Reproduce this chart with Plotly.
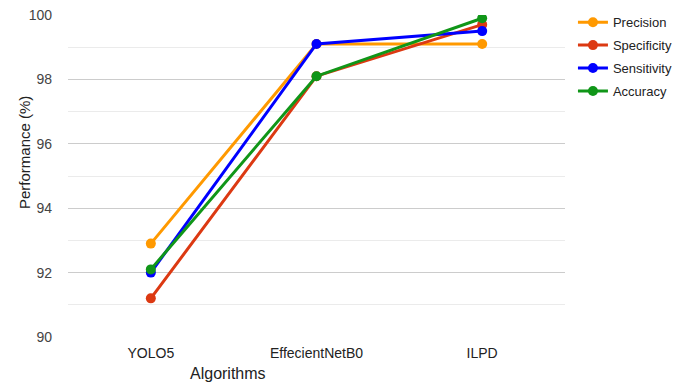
import plotly.graph_objects as go

categories = ["YOLO5", "EffecientNetB0", "ILPD"]
precision = [92.9, 99.1, 99.1]
specificity = [91.2, 98.1, 99.7]
sensitivity = [92.0, 99.1, 99.5]
accuracy = [92.1, 98.1, 99.9]

series = [
    ("Precision", precision, "#ff9900"),
    ("Specificity", specificity, "#dc3912"),
    ("Sensitivity", sensitivity, "#0000ff"),
    ("Accuracy", accuracy, "#109618"),
]

fig = go.Figure()
for name, vals, col in series:
    fig.add_trace(go.Scatter(
        x=categories, y=vals, name=name, mode="lines+markers",
        line=dict(color=col, width=3),
        marker=dict(color=col, size=10),
        legendgroup=name,
    ))

fig.update_layout(
    width=691, height=386,
    margin=dict(l=68, r=126, t=15, b=49, autoexpand=False),
    plot_bgcolor="white", paper_bgcolor="white",
    font=dict(family="Arial, Liberation Sans, sans-serif", size=12, color="#444"),
    showlegend=True,
    legend=dict(x=1.016, y=1.024, xanchor="left", yanchor="top",
                font=dict(size=13, color="#222"), tracegroupgap=3,
                bgcolor="rgba(0,0,0,0)"),
    xaxis=dict(showgrid=False, showline=False, zeroline=False,
               tickfont=dict(size=14, color="#222"), ticks="",
               ticklabelstandoff=6,
               range=[-0.5, 2.5]),
    yaxis=dict(range=[90, 100], tickvals=[90, 92, 94, 96, 98, 100],
               showgrid=True, gridcolor="#cccccc", gridwidth=1,
               zeroline=False, showline=False, ticks="",
               tickfont=dict(size=14, color="#444"),
               ticklabelstandoff=15,
               minor=dict(tickvals=[91, 93, 95, 97, 99], showgrid=True,
                          gridcolor="#ebebeb", gridwidth=1)),
)
fig.add_annotation(text="Performance (%)", xref="paper", yref="paper",
                   x=(24 - 68) / 497, y=(337 - 153) / 322, textangle=-90,
                   xanchor="center", yanchor="middle", showarrow=False,
                   font=dict(size=15, color="#222"))
fig.add_annotation(text="Algorithms", xref="paper", yref="paper",
                   x=(228 - 68) / 497, y=-(373 - 337) / 322,
                   xanchor="center", yanchor="middle", showarrow=False,
                   font=dict(size=16, color="#222"))

fig.write_html("out.html")
